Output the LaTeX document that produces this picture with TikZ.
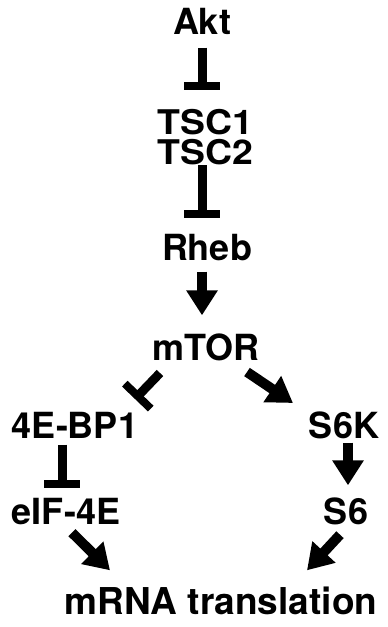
\documentclass[tikz,border=0pt]{standalone}
\usepackage{fontspec}
\setmainfont{TeX Gyre Heros}
\usetikzlibrary{arrows.meta}
\begin{document}
\begin{tikzpicture}[x=1pt,y=-1pt,
  lbl/.style={font=\fontsize{36}{36}\selectfont\bfseries, inner sep=0pt,
              text height=25pt, text depth=0pt, anchor=center},
  inh/.style={line width=9pt, -{Rectangle[width=36pt,length=8pt]}},
  act/.style={line width=10pt, -{Triangle[width=30pt,length=25pt]}}]
\useasboundingbox (0,0) rectangle (388,627);
\node[lbl] (akt)  at (202,22)  {Akt};
\node[font=\fontsize{34}{29.5}\selectfont\bfseries, inner sep=0pt, align=center,
      xscale=1.1, anchor=north] (tsc) at (205,109.5) {TSC1\\TSC2};
\node[lbl] (rheb) at (207,248) {Rheb};
\node[lbl] (mtor) at (206,348) {mTOR};
\node[lbl] (bp)   at (75,426)  {4E-BP1};
\node[lbl] (s6k)  at (344,426) {S6K};
\node[lbl] (eif)  at (66,512)  {eIF-4E};
\node[lbl] (s6)   at (346,512) {S6};
\node[lbl,font=\fontsize{37}{37}\selectfont\bfseries] (mrna) at (221,602) {mRNA translation};
% inhibitory links
\draw[inh] ([shift={(0,13)}]akt.south) -- ([shift={(-3,-20)}]tsc.north);
\draw[inh] ([shift={(-3,0)}]tsc.south) -- ([shift={(-5,-17)}]rheb.north);
\draw[inh] ([shift={(-46,25)}]mtor.center) -- ([shift={(60,-27)}]bp.center);
\draw[inh] ([shift={(-13,6)}]bp.south) -- ([shift={(-4,-11)}]eif.north);
% activating links
\draw[act] ([shift={(-5,11)}]rheb.south) -- ([shift={(-4,-20)}]mtor.north);
\draw[act] ([shift={(41,24)}]mtor.center) -- ([shift={(-51,-23)}]s6k.center);
\draw[act] ([shift={(4,4)}]s6k.south) -- ([shift={(2,-14)}]s6.north);
\draw[act] ([shift={(6,8)}]eif.south) -- ([shift={(-111,-19)}]mrna.north);
\draw[act] ([shift={(-6,10)}]s6.south) -- ([shift={(86,-19)}]mrna.north);
\end{tikzpicture}
\end{document}
